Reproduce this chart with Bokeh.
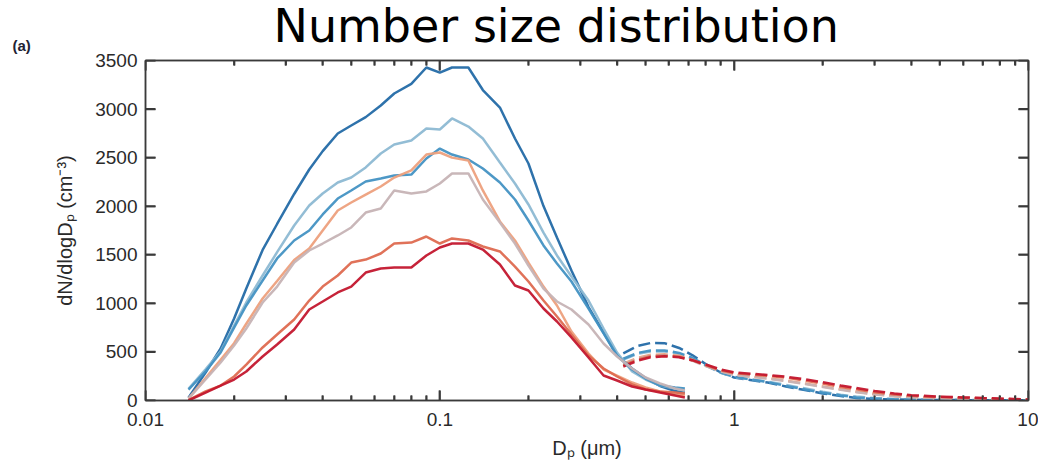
from bokeh.plotting import figure
from bokeh.models import LinearAxis, LogAxis, FixedTicker, Range1d, Title
from bokeh.embed import file_html
from bokeh.resources import INLINE

# ---- data ----
d_smps = [0.014, 0.016, 0.018, 0.02, 0.022, 0.025, 0.028, 0.032, 0.036, 0.04,
          0.045, 0.05, 0.056, 0.063, 0.07, 0.08, 0.09, 0.1, 0.11, 0.125,
          0.14, 0.16, 0.18, 0.2, 0.225, 0.25, 0.28, 0.32, 0.36, 0.4,
          0.45, 0.5, 0.56, 0.63, 0.68]

smps_darkblue = [30, 288, 535, 844, 1153, 1550, 1817, 2126, 2378, 2567,
                 2749, 2831, 2917, 3037, 3160, 3259, 3428, 3376, 3428, 3428,
                 3196, 3016, 2697, 2440, 2001, 1678, 1338, 962, 700, 463,
                 329, 232, 149, 98, 82]
smps_lightblue = [120, 320, 507, 772, 1009, 1287, 1527, 1801, 2007, 2131,
                  2244, 2296, 2399, 2543, 2635, 2676, 2800, 2790, 2903, 2820,
                  2697, 2450, 2234, 2018, 1729, 1493, 1276, 1029, 741, 494,
                  299, 216, 154, 124, 103]
smps_midblue = [113, 300, 494, 751, 978, 1235, 1462, 1647, 1750, 1915,
                2079, 2162, 2254, 2285, 2316, 2326, 2491, 2594, 2532, 2481,
                2388, 2244, 2069, 1853, 1596, 1410, 1225, 947, 690, 463,
                319, 226, 154, 134, 124]
smps_lightorange = [20, 230, 420, 590, 790, 1050, 1230, 1446, 1565, 1750,
                    1956, 2038, 2120, 2203, 2295, 2368, 2532, 2553, 2500, 2470,
                    2162, 1843, 1647, 1420, 1173, 978, 710, 484, 319, 257,
                    185, 134, 93, 62, 51]
smps_gray = [20, 216, 391, 566, 741, 1009, 1173, 1420, 1544, 1616,
             1699, 1781, 1935, 1976, 2162, 2131, 2152, 2234, 2337, 2337,
             2069, 1832, 1616, 1390, 1153, 1019, 937, 782, 587, 453,
             329, 237, 175, 124, 103]
smps_orangered = [5, 93, 154, 247, 370, 546, 679, 834, 1029, 1173,
                  1287, 1420, 1451, 1513, 1616, 1626, 1688, 1616, 1668, 1647,
                  1585, 1534, 1379, 1225, 1029, 865, 679, 463, 329, 247,
                  165, 113, 93, 82, 72]
smps_darkred = [0, 82, 154, 216, 299, 453, 576, 731, 937, 1019,
                1112, 1173, 1317, 1359, 1369, 1369, 1493, 1575, 1616, 1616,
                1554, 1400, 1184, 1132, 947, 813, 649, 443, 257, 206,
                144, 113, 82, 51, 31]

d_aps = [0.42, 0.47, 0.52, 0.58, 0.65, 0.72, 0.8, 0.9, 1.0, 1.15, 1.3, 1.5,
         1.7, 2.0, 2.3, 2.6, 3.0, 3.5, 4.0, 5.0, 6.0, 7.0, 8.5, 10.0]

aps_darkblue = [484, 561, 592, 590, 541, 468, 375, 288, 237, 208, 185, 144,
                113, 72, 46, 26, 15, 10, 8, 5, 4, 3, 2, 1]
aps_lightblue = [420, 480, 505, 505, 480, 430, 360, 285, 240, 215, 195, 160,
                 130, 90, 60, 40, 25, 15, 10, 7, 5, 4, 3, 2]
aps_midblue = [430, 490, 515, 515, 490, 440, 365, 290, 245, 215, 190, 150,
               120, 80, 52, 32, 20, 12, 8, 6, 4, 3, 2, 1]
aps_lightorange = [380, 440, 470, 475, 460, 420, 360, 300, 265, 245, 230, 205,
                   180, 145, 115, 90, 65, 45, 35, 25, 20, 15, 10, 5]
aps_gray = [370, 430, 460, 465, 450, 410, 355, 300, 265, 245, 225, 200,
            175, 140, 110, 85, 62, 45, 35, 25, 18, 14, 9, 4]
aps_orangered = [360, 420, 455, 460, 450, 415, 365, 310, 280, 265, 255, 235,
                 210, 175, 140, 115, 85, 62, 48, 35, 28, 22, 15, 8]
aps_darkred = [350, 410, 445, 455, 445, 415, 370, 320, 290, 275, 262, 245,
               222, 188, 155, 128, 98, 72, 55, 40, 32, 25, 18, 10]

series_colors = ["#236aa6", "#8db9d3", "#4392c3", "#eda07d", "#c6b3b5", "#de6a50", "#c3172e"]
smps_series = [smps_darkblue, smps_lightblue, smps_midblue, smps_lightorange,
               smps_gray, smps_orangered, smps_darkred]
aps_series = [aps_darkblue, aps_lightblue, aps_midblue, aps_lightorange,
              aps_gray, aps_orangered, aps_darkred]

x_major = [0.01, 0.1, 1, 10]
x_minor = [m * 10.0 ** e for e in (-2, -1, 0) for m in range(2, 10)]
x_labels = ["0.01", "0.1", "1", "10"]
y_ticks = [0, 500, 1000, 1500, 2000, 2500, 3000, 3500]

title_text = "Number size distribution"
panel_text = "(a)"
ylabel = "dN/dlogD\u209a (cm\u207b\u00b3)"
xlabel = "D\u209a (\u03bcm)"

X0, X1 = 0.01, 10
Y0, Y1 = 0, 3500

# ---- layout ----
W, H = 1038, 472
BL, BR, BT, BB = 145, 10, 60, 72

p = figure(width=W, height=H, x_axis_type="log",
           x_range=Range1d(X0, X1), y_range=Range1d(Y0, Y1),
           output_backend="svg", toolbar_location=None,
           min_border_left=BL, min_border_right=BR,
           min_border_top=BT, min_border_bottom=BB)
p.xgrid.visible = False
p.ygrid.visible = False
p.outline_line_color = "#444444"
p.outline_line_width = 1.5
p.background_fill_color = "white"
p.border_fill_color = "white"

AX = "#3a3a3a"
TXT = "#2a2a2a"
FONT = "Liberation Sans"

xa = p.xaxis[0]
xa.ticker = FixedTicker(ticks=x_major, minor_ticks=x_minor)
xa.major_label_overrides = {v: s for v, s in zip(x_major, x_labels)}
ya = p.yaxis[0]
ya.ticker = FixedTicker(ticks=y_ticks, minor_ticks=[])

top = LogAxis(ticker=FixedTicker(ticks=x_major, minor_ticks=x_minor))
right = LinearAxis(ticker=FixedTicker(ticks=y_ticks, minor_ticks=[]))
p.add_layout(top, "above")
p.add_layout(right, "right")

for ax in (xa, ya, top, right):
    ax.axis_line_color = AX
    ax.axis_line_width = 1.5
    ax.major_tick_line_color = AX
    ax.minor_tick_line_color = AX
    ax.major_tick_line_width = 1.5
    ax.minor_tick_line_width = 1.5
    ax.major_tick_in = 10
    ax.major_tick_out = 0
    ax.minor_tick_in = 5
    ax.minor_tick_out = 0
    ax.major_label_text_font = FONT
    ax.major_label_text_font_size = "19px"
    ax.major_label_text_color = TXT
    ax.axis_label_text_font = FONT
    ax.axis_label_text_font_size = "20px"
    ax.axis_label_text_font_style = "normal"
    ax.axis_label_text_color = TXT

for ax in (top, right):
    ax.major_label_text_font_size = "0px"
    ax.major_label_text_color = None
    ax.major_label_standoff = 0

xa.major_label_standoff = 12
ya.major_label_standoff = 8
xa.axis_label = xlabel
ya.axis_label = ylabel
xa.axis_label_standoff = 8
ya.axis_label_standoff = 16

# inward tick marks as thin filled rects centred on the frame edges
# (the half outside the frame is clipped away)
MAJ, MIN, TW = 20, 10, 2
rk = dict(width_units="screen", height_units="screen", fill_color=AX, line_color=None)
p.rect(x=x_major + x_major, y=[Y0] * len(x_major) + [Y1] * len(x_major),
       width=TW, height=MAJ, **rk)
p.rect(x=x_minor + x_minor, y=[Y0] * len(x_minor) + [Y1] * len(x_minor),
       width=TW, height=MIN, **rk)
p.rect(x=[X0] * len(y_ticks) + [X1] * len(y_ticks), y=y_ticks + y_ticks,
       width=MAJ, height=TW, **rk)

for ys, c in zip(aps_series, series_colors):
    p.line(d_aps, ys, line_color=c, line_width=2.5, line_dash="12 5", line_alpha=0.95)
for ys, c in zip(smps_series, series_colors):
    p.line(d_smps, ys, line_color=c, line_width=2.5, line_alpha=0.95)

# "(a)" tag (closest title row) and the main heading above it
p.add_layout(Title(text=panel_text, align="left", offset=-133, standoff=13,
                   text_font=FONT, text_font_size="15px",
                   text_font_style="bold", text_color="#222233"), "above")
p.add_layout(Title(text=title_text, align="left", offset=128, standoff=-48,
                   text_font="DejaVu Sans", text_font_size="46px",
                   text_font_style="normal", text_color="black"), "above")

open("out.html", "w").write(file_html(p, INLINE))
